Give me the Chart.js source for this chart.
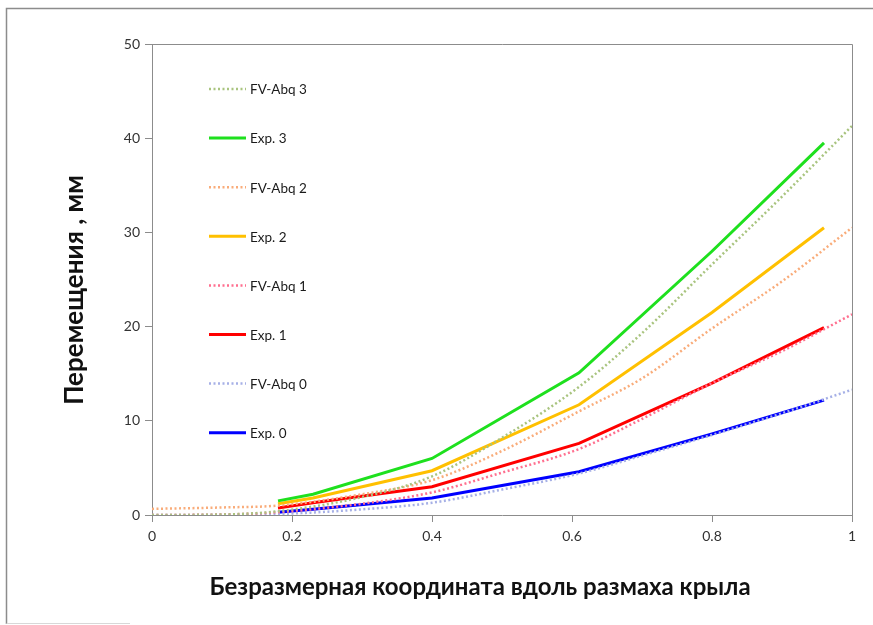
<!DOCTYPE html>
<html>
<head>
<meta charset="utf-8">
<script src="https://cdn.jsdelivr.net/npm/chart.js@4.4.1/dist/chart.umd.min.js"></script>
<style>
  html, body { margin: 0; padding: 0; background: #fff; }
  #wrap { width: 873px; height: 625px; }
</style>
</head>
<body>
<div id="wrap"><canvas id="c" width="873" height="625"></canvas></div>
<script>
// Spanwise stations (dimensionless) for the measured and the simulated series
const expX = [0.18, 0.23, 0.4, 0.61, 0.8, 0.96];
const fvX  = [0, 0.1, 0.18, 0.3, 0.4, 0.5, 0.61, 0.7, 0.8, 0.9, 1.0];

// Measured displacements, mm
const exp0 = [0.3, 0.6, 1.8, 4.6, 8.6, 12.2];
const exp1 = [0.75, 1.3, 3.0, 7.6, 14.0, 19.9];
const exp2 = [1.2, 1.8, 4.7, 11.7, 21.5, 30.5];
const exp3 = [1.5, 2.2, 6.0, 15.1, 28.0, 39.5];

// FV-Abq simulated displacements, mm
const fv0 = [0, 0.02, 0.1, 0.6, 1.3, 2.7, 4.4, 6.3, 8.5, 10.8, 13.3];
const fv1 = [0, 0.05, 0.3, 1.2, 2.4, 4.5, 7.0, 10.2, 14.0, 17.4, 21.3];
const fv2 = [0.65, 0.8, 1.0, 2.2, 3.7, 6.8, 11.0, 14.5, 19.8, 24.8, 30.5];
const fv3 = [0, 0.05, 0.4, 1.9, 4.1, 8.2, 13.6, 19.3, 26.6, 33.8, 41.3];

const xTicks = [0, 0.2, 0.4, 0.6, 0.8, 1];
const xTickLabels = ['0', '0.2', '0.4', '0.6', '0.8', '1'];
const yTicks = [0, 10, 20, 30, 40, 50];

const xTitle = 'Безразмерная координата вдоль размаха крыла';
const yTitle = 'Перемещения , мм';

const pts = (xs, ys) => xs.map((x, i) => ({ x: x, y: ys[i] }));

function solid(label, xs, ys, color) {
  return { label, data: pts(xs, ys), borderColor: color, backgroundColor: color,
           borderWidth: 3, pointRadius: 0, tension: 0, fill: false };
}
function dotted(label, xs, ys, color) {
  return { label, data: pts(xs, ys), borderColor: color, backgroundColor: color,
           borderWidth: 2.5, borderDash: [2, 2.5], pointRadius: 0,
           cubicInterpolationMode: 'monotone', fill: false };
}

const datasets = [
  dotted('FV-Abq 3', fvX, fv3, '#a9c47f'),
  solid('Exp. 3', expX, exp3, '#1ee01e'),
  dotted('FV-Abq 2', fvX, fv2, '#f9ac7a'),
  solid('Exp. 2', expX, exp2, '#ffc000'),
  dotted('FV-Abq 1', fvX, fv1, '#ff6f8f'),
  solid('Exp. 1', expX, exp1, '#ff0000'),
  dotted('FV-Abq 0', fvX, fv0, '#a6b0e6'),
  solid('Exp. 0', expX, exp0, '#0000ff')
];

// Outer frame, the box around the plotting area and the axis titles
const framePlugin = {
  id: 'frame',
  beforeDraw(chart) {
    const ctx = chart.ctx;
    ctx.save();
    ctx.fillStyle = '#fff';
    ctx.fillRect(0, 0, chart.width, chart.height);
    ctx.strokeStyle = '#8c8c8c';
    ctx.lineWidth = 1.5;
    ctx.beginPath();
    ctx.moveTo(6.5, 624);
    ctx.lineTo(6.5, 8.5);
    ctx.lineTo(chart.width, 8.5);
    ctx.stroke();
    ctx.strokeStyle = '#d8d8d8';
    ctx.lineWidth = 1;
    ctx.beginPath();
    ctx.moveTo(6.5, 623.5);
    ctx.lineTo(130, 623.5);
    ctx.stroke();
    ctx.restore();
  },
  afterDatasetsDraw(chart) {
    const a = chart.chartArea;
    const ctx = chart.ctx;
    ctx.save();
    ctx.strokeStyle = '#8c8c8c';
    ctx.lineWidth = 1;
    ctx.beginPath();
    ctx.moveTo(a.left, a.top + 0.5);
    ctx.lineTo(a.right + 0.5, a.top + 0.5);
    ctx.lineTo(a.right + 0.5, a.bottom);
    ctx.stroke();

    ctx.fillStyle = '#111';
    ctx.textAlign = 'center';
    ctx.textBaseline = 'middle';
    ctx.font = 'bold 24px Lato, "Noto Sans", sans-serif';
    ctx.fillText(xTitle, 480, 587);
    ctx.translate(75, 290);
    ctx.rotate(-Math.PI / 2);
    ctx.font = 'bold 26px Lato, "Noto Sans", sans-serif';
    ctx.fillText(yTitle, 0, 0);
    ctx.restore();
  }
};

// Vertical legend inside the plot area
const legendPlugin = {
  id: 'innerLegend',
  afterDraw(chart) {
    const ctx = chart.ctx;
    ctx.save();
    ctx.font = '13.5px Lato, "Noto Sans", sans-serif';
    ctx.textBaseline = 'middle';
    ctx.fillStyle = '#1a1a1a';
    chart.data.datasets.forEach((ds, i) => {
      const y = 89 + i * 49.1;
      ctx.strokeStyle = ds.borderColor;
      ctx.lineWidth = ds.borderWidth;
      ctx.setLineDash(ds.borderDash || []);
      ctx.beginPath();
      ctx.moveTo(209, y);
      ctx.lineTo(246, y);
      ctx.stroke();
      ctx.setLineDash([]);
      ctx.fillText(ds.label, 250, y + 1);
    });
    ctx.restore();
  }
};

new Chart(document.getElementById('c'), {
  type: 'line',
  data: { datasets },
  plugins: [framePlugin, legendPlugin],
  options: {
    responsive: false,
    animation: false,
    layout: { padding: { left: 0, right: 21, top: 44, bottom: 0 } },
    plugins: { legend: { display: false }, tooltip: { enabled: false } },
    scales: {
      x: {
        type: 'linear', min: 0, max: 1,
        afterBuildTicks(s) { s.ticks = xTicks.map(v => ({ value: v })); },
        afterFit(s) { s.height = 110; },
        ticks: { color: '#333', font: { family: 'Lato, "Noto Sans", sans-serif', size: 14 }, padding: 6, maxRotation: 0,
                 callback: (v, i) => xTickLabels[i] },
        grid: { display: true, drawOnChartArea: false, drawTicks: true, tickLength: 7, color: '#8c8c8c' },
        border: { display: true, color: '#8c8c8c', width: 1 }
      },
      y: {
        type: 'linear', min: 0, max: 50,
        afterBuildTicks(s) { s.ticks = yTicks.map(v => ({ value: v })); },
        afterFit(s) { s.width = 152; },
        ticks: { color: '#333', font: { family: 'Lato, "Noto Sans", sans-serif', size: 14 }, padding: 5 },
        grid: { display: true, drawOnChartArea: false, drawTicks: true, tickLength: 7, color: '#8c8c8c' },
        border: { display: true, color: '#8c8c8c', width: 1 }
      }
    }
  }
});
</script>
</body>
</html>
